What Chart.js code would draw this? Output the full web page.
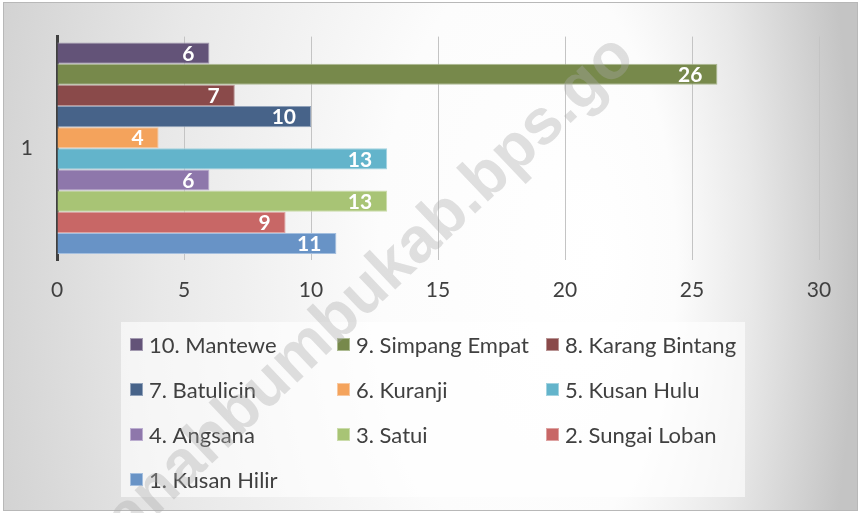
<!DOCTYPE html>
<html>
<head>
<meta charset="utf-8">
<script src="https://cdn.jsdelivr.net/npm/chart.js@4.4.1/dist/chart.umd.min.js"></script>
<style>
    html, body { margin: 0; padding: 0; background: #ffffff; }
    #chartContainer { position: relative; width: 859px; height: 513px; }
</style>
</head>
<body>
<div id="chartContainer">
    <canvas id="myChart" width="859" height="513"></canvas>
</div>
<script>
// data
const categories = ['1'];
const seriesNames = ['10. Mantewe', '9. Simpang Empat', '8. Karang Bintang', '7. Batulicin', '6. Kuranji',
    '5. Kusan Hulu', '4. Angsana', '3. Satui', '2. Sungai Loban', '1. Kusan Hilir'];
const seriesValues = [6, 26, 7, 10, 4, 13, 6, 13, 9, 11];
const xMin = 0;
const xMax = 30;
const xStep = 5;

const seriesColors = ['#635378', '#77894b', '#8a4a4a', '#476389', '#f4a35c',
    '#63b4cb', '#8e77ab', '#a8c475', '#c86766', '#6893c6'];
const seriesBorders = ['#a39ab0', '#adbb92', '#b99494', '#91a2ba', '#f8c8a0',
    '#a3d3e0', '#bcaed0', '#cbdcab', '#dea3a2', '#a4bfdf'];

const fontFamily = 'Lato, "Open Sans", sans-serif';

// background gradient + frame
const backgroundPlugin = {
    id: 'background',
    beforeDraw(chart) {
        const ctx = chart.ctx;
        ctx.save();
        ctx.fillStyle = '#ffffff';
        ctx.fillRect(0, 0, chart.width, chart.height);
        ctx.save();
        ctx.beginPath();
        ctx.rect(4, 2, 854, 509);
        ctx.clip();
        ctx.translate(0, 260);
        ctx.scale(1, 2);
        const g = ctx.createRadialGradient(600, 0, 0, 359, 0, 496);
        g.addColorStop(0, '#ffffff');
        g.addColorStop(0.3, '#fcfcfc');
        g.addColorStop(0.6, '#e8e8e8');
        g.addColorStop(1, '#c4c4c4');
        ctx.fillStyle = g;
        ctx.fillRect(0, -131, 859, 258);
        ctx.restore();
        ctx.strokeStyle = '#b8b8b8';
        ctx.lineWidth = 1;
        ctx.strokeRect(3.5, 2.5, 854, 508);
        ctx.restore();
    }
};

// white value labels inside the bar ends
const valueLabelPlugin = {
    id: 'valueLabels',
    afterDatasetsDraw(chart) {
        const ctx = chart.ctx;
        ctx.save();
        ctx.font = 'bold 21px ' + fontFamily;
        ctx.fillStyle = '#ffffff';
        ctx.textAlign = 'right';
        ctx.textBaseline = 'middle';
        chart.data.datasets.forEach((ds, i) => {
            const meta = chart.getDatasetMeta(i);
            meta.data.forEach((bar, j) => {
                ctx.fillText(String(ds.data[j]), bar.x - 15, bar.y + 1);
            });
        });
        ctx.restore();
    }
};

// legend in three columns inside a light box
const gridLegendPlugin = {
    id: 'gridLegend',
    afterDraw(chart) {
        const ctx = chart.ctx;
        const colX = [130, 337, 546];
        ctx.save();
        ctx.fillStyle = 'rgba(255,255,255,0.62)';
        ctx.fillRect(121, 322, 624, 175);
        ctx.font = '22px ' + fontFamily;
        ctx.textAlign = 'left';
        ctx.textBaseline = 'middle';
        chart.data.datasets.forEach((ds, i) => {
            const x = colX[i % 3];
            const y = 345 + Math.floor(i / 3) * 45;
            ctx.fillStyle = ds.borderColor;
            ctx.fillRect(x, y - 7, 13, 13);
            ctx.fillStyle = ds.backgroundColor;
            ctx.fillRect(x + 1, y - 6, 11, 11);
            ctx.fillStyle = '#404040';
            ctx.fillText(ds.label, x + 19, y + 1);
        });
        ctx.restore();
    }
};

// diagonal watermark
const watermarkPlugin = {
    id: 'watermark',
    afterDraw(chart) {
        const ctx = chart.ctx;
        ctx.save();
        ctx.translate(637, 60);
        ctx.rotate(-43.5 * Math.PI / 180);
        ctx.font = 'bold 64px "Liberation Sans", Arial, sans-serif';
        ctx.fillStyle = 'rgba(170,170,170,0.36)';
        ctx.textAlign = 'right';
        ctx.textBaseline = 'alphabetic';
        ctx.fillText('tanahbumbukab.bps.go', 0, 0);
        ctx.restore();
    }
};

const datasets = seriesNames.map((name, i) => ({
    label: name,
    data: [seriesValues[i]],
    backgroundColor: seriesColors[i],
    borderColor: seriesBorders[i],
    borderWidth: 1,
    categoryPercentage: 0.947,
    barPercentage: 1.0
}));

const ctx = document.getElementById('myChart').getContext('2d');
const myChart = new Chart(ctx, {
    type: 'bar',
    data: {
        labels: categories,
        datasets: datasets
    },
    options: {
        indexAxis: 'y',
        responsive: false,
        animation: false,
        layout: {
            padding: { left: 0, top: 32, right: 40, bottom: 203 }
        },
        plugins: {
            legend: { display: false },
            tooltip: { enabled: false }
        },
        scales: {
            x: {
                min: xMin,
                max: xMax,
                afterFit: (scale) => { scale.height = 50; },
                border: { display: false },
                grid: {
                    drawTicks: false,
                    color: (c) => (c.tick && c.tick.value === 0) ? 'rgba(0,0,0,0)' : '#c4c4c4'
                },
                ticks: {
                    stepSize: xStep,
                    padding: 18,
                    color: '#404040',
                    font: { family: fontFamily, size: 21 }
                }
            },
            y: {
                afterFit: (scale) => { scale.width = 57; },
                border: { display: true, color: '#404040', width: 3 },
                grid: { display: false, drawTicks: false },
                ticks: {
                    padding: 24,
                    color: '#404040',
                    font: { family: fontFamily, size: 21 }
                }
            }
        }
    },
    plugins: [backgroundPlugin, valueLabelPlugin, gridLegendPlugin, watermarkPlugin]
});
</script>
</body>
</html>
